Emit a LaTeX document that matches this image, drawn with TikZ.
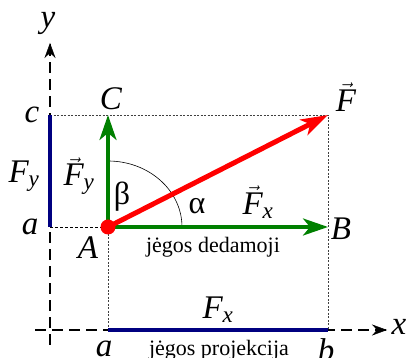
\documentclass[tikz,border=0pt]{standalone}
\usepackage{fontspec}
\setmainfont{Liberation Serif}
\usepackage{amsmath}
\usetikzlibrary{arrows.meta,calc}
\newcommand{\vF}[1]{$\vec{\mathit{F}}_{\mathit{#1}}$}

\begin{document}
\begin{tikzpicture}[
  x=1pt, y=1pt,
  lab/.style={font=\fontsize{33}{36}\selectfont\itshape, inner sep=0pt},
  greek/.style={font=\fontsize{32}{34}\selectfont, inner sep=0pt},
  txt/.style={font=\fontsize{22}{24}\selectfont, inner sep=0pt},
  axis/.style={black, line width=1.6pt, dash pattern=on 11pt off 6pt},
  axtip/.style={-{Stealth[length=15pt, width=11pt, inset=5pt]}},
  guide/.style={black!75, line width=0.5pt, dash pattern=on 2pt off 1.5pt},
  comp/.style={-{Stealth[length=25pt, width=17pt, inset=7pt]}, green!50!black, line width=3.6pt},
  force/.style={-{Stealth[length=27pt, width=17pt, inset=7pt]}, red, line width=5pt},
  proj/.style={blue!50!black, line width=4.5pt}
]
\useasboundingbox (0,0) rectangle (408,358);

% points
\coordinate (A) at (108,131);
\coordinate (B) at (328,131);
\coordinate (C) at (108,243);
\coordinate (Ftip) at (328,243);
\coordinate (xs) at (35,28);
\coordinate (xe) at (387,28);
\coordinate (ys) at (50,13);
\coordinate (ye) at (50,315);
\coordinate (yc) at (50,243);
\coordinate (ya) at (50,131);
\coordinate (xa) at (108,28);
\coordinate (xb) at (328,28);

% axes
\draw[axis] (xs) -- (xe);
\draw[axtip] ($(xe)+(-1,0)$) -- (xe);
\draw[axis] (ys) -- (ye);
\draw[axtip] ($(ye)+(0,-1)$) -- (ye);

% guide lines
\draw[guide] (yc) -- (Ftip) -- (xb);
\draw[guide] (A) -- (xa);
\draw[black, line width=0.8pt, dash pattern=on 3pt off 2pt] (ya) -- (A);

% projections
\draw[proj] (ya) -- (yc);
\draw[proj] (xa) -- (xb);

% angles
\draw[black, line width=0.6pt] ($(A)+(0,66)$) arc[start angle=90, end angle=0, x radius=74, y radius=66];

% components and force
\draw[comp] (A) -- (C);
\draw[comp] (A) -- (B);
\draw[force] (A) -- (Ftip);
\fill[red] (A) circle[radius=7.5];

% labels
\node[lab] (ylbl) at (48,335) {y};
\node[lab] (xlbl) at (399,31) {x};
\node[lab] (clbl) at (32,243) {c};
\node[lab] (albl) at (30,131) {a};
\node[lab] (Fylbl) at (24,182) {F\textsubscript{\itshape y}};
\node[lab] (Clbl) at (111,259) {C};
\node[lab] (Blbl) at (341,129) {B};
\node[lab] (Albl) at (88,110) {A};
\node[lab] (Flbl) at (346,261) {$\vec{\mathit{F}}$};
\node[lab] (vFy) at (79,182) {\vF{y}};
\node[lab] (vFx) at (258,156) {\vF{x}};
\node[greek] (beta) at (122,161) {β};
\node[greek] (alpha) at (197,152) {α};
\node[txt] (dedam) at (213,111) {jėgos dedamoji};
\node[lab] (Fxlbl) at (218,48) {F\textsubscript{\itshape x}};
\node[lab] (axlbl) at (104,9) {a};
\node[lab] (bxlbl) at (326,8) {b};
\node[txt] (proj) at (219,8) {jėgos projekcija};
\end{tikzpicture}
\end{document}
